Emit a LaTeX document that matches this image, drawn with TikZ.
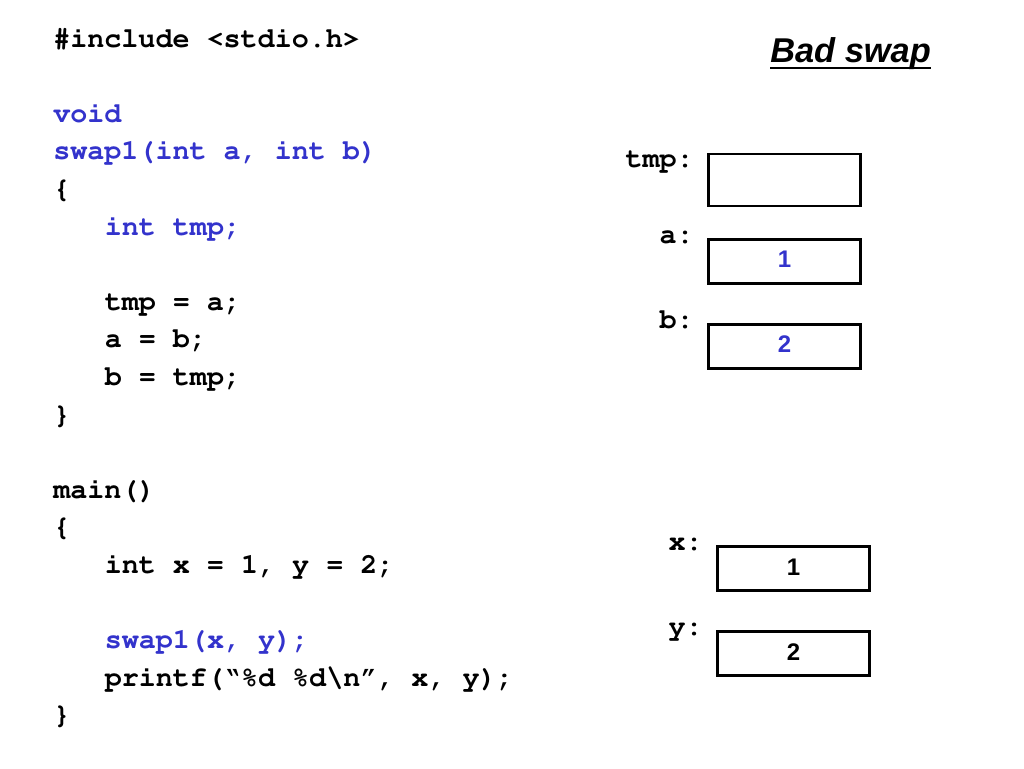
\documentclass[tikz,border=0pt]{standalone}
\usepackage{fontspec}
\setmainfont{Liberation Sans}
\newfontfamily\arialfont{Liberation Sans}
\newcommand{\courierbf}{\fontencoding{T1}\fontfamily{pcr}\fontseries{b}\fontshape{n}\selectfont}
\definecolor{codeblue}{RGB}{51,51,204}
\tikzset{
  code/.style={anchor=base west, inner sep=0pt, font=\courierbf\fontsize{21.3}{25}\selectfont},
  bluecode/.style={code, text=codeblue},
  varlabel/.style={anchor=base east, inner sep=0pt, font=\courierbf\fontsize{21.3}{25}\selectfont},
  membox/.style={draw=black, line width=2.2pt, minimum width=114pt, inner sep=0pt},
  val/.style={inner sep=0pt, font=\arialfont\bfseries\fontsize{18}{21}\selectfont},
}
\begin{document}
\begin{tikzpicture}[x=0.75pt,y=-0.75pt]
\useasboundingbox[fill=white] (0,0) rectangle (1024,768);
% code
\node[code] (l0) at (53,47) {\#include <stdio.h>};
\node[bluecode] (l2) at (53,122.2) {void};
\node[bluecode] (l3) at (53,159.8) {swap1(int a, int b)};
\node[code] (l4) at (53,197.4) {\{};
\node[bluecode] (l5) at (104.5,235) {int tmp;};
\node[code] (l7) at (104.5,310.2) {tmp = a;};
\node[code] (l8) at (104.5,347.8) {a = b;};
\node[code] (l9) at (104.5,385.4) {b = tmp;};
\node[code] (l10) at (53,423) {\}};
\node[code] (l12) at (53,498.2) {main()};
\node[code] (l13) at (53,535.8) {\{};
\node[code] (l14) at (104.5,573.4) {int x = 1, y = 2;};
\node[bluecode] (l16) at (104.5,648.6) {swap1(x, y);};
\node[code] (l17) at (104.5,686.2) {printf(\textquotedblleft\%d \%d\textbackslash n\textquotedblright, x, y);};
\node[code] (l18) at (53,723.8) {\}};
% title
\node[anchor=base west, inner sep=0pt, font=\arialfont\bfseries\itshape\fontsize{25.8}{30}\selectfont] (title) at (770,62) {Bad swap};
\draw[line width=1.6pt] (title.south west |- 0,68) -- (title.south east |- 0,68);
% memory boxes
\node[membox, minimum height=39pt] (tmpbox) at (784.5,180) {};
\node[membox, minimum height=33pt] (abox) at (784.5,261.5) {};
\node[membox, minimum height=33pt] (bbox) at (784.5,346.5) {};
\node[membox, minimum height=33pt] (xbox) at (793.5,568.5) {};
\node[membox, minimum height=33pt] (ybox) at (793.5,653.5) {};
\node[val, text=codeblue] (aval) at ([yshift=1.5pt]abox.center) {1};
\node[val, text=codeblue] (bval) at ([yshift=1.5pt]bbox.center) {2};
\node[val] (xval) at ([yshift=1pt]xbox.center) {1};
\node[val] (yval) at ([yshift=1pt]ybox.center) {2};
\node[varlabel] (tmplab) at (694,167) {tmp:};
\node[varlabel] (alab) at (694,243) {a:};
\node[varlabel] (blab) at (694,328) {b:};
\node[varlabel] (xlab) at (703,550) {x:};
\node[varlabel] (ylab) at (703,635) {y:};
\end{tikzpicture}
\end{document}
